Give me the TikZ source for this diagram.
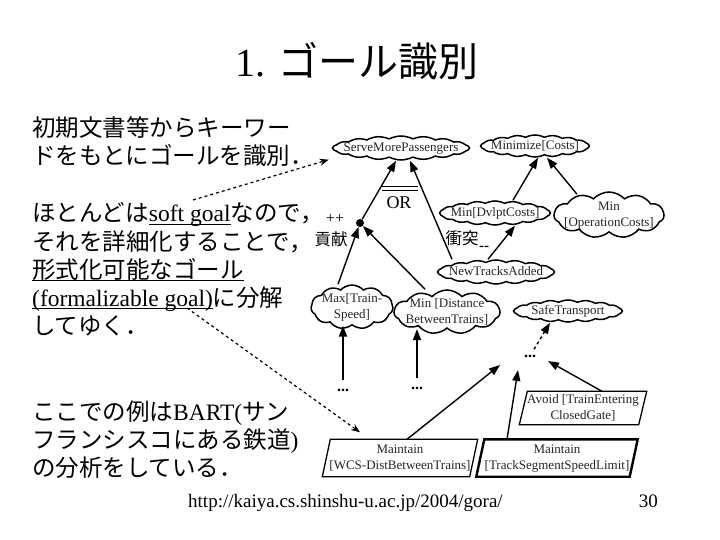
\documentclass[tikz,border=0pt]{standalone}
\usepackage{fontspec}
\setmainfont{Liberation Serif}
\newfontfamily\jp{Noto Sans CJK JP}
\usetikzlibrary{shapes.symbols,shapes.geometric,arrows.meta}
\newcommand\myul[1]{\setbox0\hbox{#1}\rlap{\rule[-3pt]{\wd0}{1.3pt}}\box0}
\newcommand\gtxt[1]{\makebox[0pt]{\raisebox{-3pt}[0pt][0pt]{\begin{tabular}{@{}c@{}}#1\end{tabular}}}}
\newcommand\pgram[2]{\draw[#2] ([xshift=-4pt]#1.south west) -- ([xshift=-4pt]#1.south east) -- ([xshift=4pt]#1.north east) -- ([xshift=4pt]#1.north west) -- cycle;}
\tikzset{
  nodefont/.style={font=\fontsize{13}{16.5}\selectfont, text=black!85},
  goalcloud/.style={shape=cloud, draw, line width=1.5pt, cloud puffs=18, cloud puff arc=55,
     cloud ignores aspect, inner sep=0pt, nodefont},
  roughcloud/.style={goalcloud, cloud puffs=11, cloud puff arc=95},
  agentbox/.style={rectangle, inner sep=0pt, nodefont},
  boxline/.style={line width=1.3pt, line join=miter},
  link/.style={line width=1.4pt, -{Triangle[length=11pt,width=8pt]}},
  hint/.style={dashed, line width=1.2pt, -{Stealth[length=9pt,width=7pt]}},
  bodytext/.style={anchor=base west, inner sep=0pt, font=\fontsize{23.5}{28}\selectfont},
  dots/.style={inner sep=0pt, font=\fontsize{16}{16}\selectfont\bfseries},
  smalllabel/.style={inner sep=0pt, font=\fontsize{16.5}{16.5}\selectfont},
}
\begin{document}
\begin{tikzpicture}[x=1pt,y=-1pt]
\path[fill=white] (0,0) rectangle (720,540);
\useasboundingbox (0,0) rectangle (720,540);

% title
\node[anchor=base west, inner sep=0pt, font=\fontsize{40}{40}\selectfont] (title) at (235,77) {1. {\jp ゴール識別}};

% left text
\node[bodytext] (l1) at (32,137) {{\jp 初期文書等からキーワー}};
\node[bodytext] (l2) at (32,165) {{\jp ドをもとにゴールを識別．}};
\node[bodytext] (l3) at (32,222) {{\jp ほとんどは}\myul{soft goal}{\jp なので，}};
\node[bodytext] (l4) at (32,250) {{\jp それを詳細化することで，}};
\node[bodytext] (l5) at (32,278) {\myul{\jp 形式化可能なゴール}};
\node[bodytext] (l6) at (32,306) {\myul{(formalizable goal)}{\jp に分解}};
\node[bodytext] (l7) at (32,334) {{\jp してゆく．}};
\node[bodytext] (l8) at (32,420) {{\jp ここでの例は}BART({\jp サン}};
\node[bodytext] (l9) at (32,448) {{\jp フランシスコにある鉄道})};
\node[bodytext] (l10) at (32,476) {{\jp の分析をしている．}};

% goal nodes
\node[goalcloud, minimum width=136, minimum height=24] (smp) at (401,148) {\gtxt{ServeMorePassengers}};
\node[goalcloud, minimum width=108, minimum height=22] (mincost) at (535,146) {\gtxt{Minimize[Costs]}};
\node[goalcloud, minimum width=110, minimum height=24] (mindv) at (495,213) {\gtxt{Min[DvlptCosts]}};
\node[roughcloud, minimum width=110, minimum height=46] (minop) at (609,215) {\gtxt{Min\\{[}OperationCosts]}};
\node[goalcloud, minimum width=116, minimum height=24] (nta) at (496,272) {\gtxt{NewTracksAdded}};
\node[roughcloud, minimum width=82, minimum height=44] (maxts) at (352,307) {\gtxt{Max[Train-\\Speed]}};
\node[roughcloud, minimum width=106, minimum height=44] (mindist) at (447,312) {\gtxt{Min [Distance\\BetweenTrains]}};
\node[goalcloud, minimum width=108, minimum height=22] (safe) at (568,311) {\gtxt{SafeTransport}};

% requirement boxes (parallelograms)
\node[agentbox, minimum width=119, minimum height=33] (avoid) at (583,408) {\gtxt{Avoid [TrainEntering\\ClosedGate]}};
\node[agentbox, minimum width=147, minimum height=37] (wcs) at (400,458) {\gtxt{Maintain\\{[}WCS-DistBetweenTrains]}};
\node[agentbox, minimum width=153, minimum height=37] (track) at (557,458) {\gtxt{Maintain\\{[}TrackSegmentSpeedLimit]}};
\pgram{avoid}{boxline}
\pgram{wcs}{boxline}
\pgram{track}{boxline, line width=2.4pt}

% dots and contribution point
\node[circle, fill, inner sep=0pt, minimum size=8] (dot) at (360,223) {};
\node[dots] (d1) at (343,390) {...};
\node[dots] (d2) at (417,388) {...};
\node[dots] (d3) at (530,356) {...};

% labels
\node[inner sep=0pt, font=\fontsize{18}{18}\selectfont] (or) at (399,203) {OR};
\node[inner sep=0pt, font=\fontsize{16}{16}\selectfont] (pp) at (335,219) {++};
\node[smalllabel, font=\jp\fontsize{16.5}{16.5}\selectfont] (kouken) at (331,239) {貢献};
\node[smalllabel, font=\jp\fontsize{16.5}{16.5}\selectfont] (shoutotsu) at (462,238) {衝突};
\node[inner sep=0pt, font=\fontsize{15}{15}\selectfont\bfseries] (mm) at (484,248) {-{}-};

% OR bar
\draw[line width=1pt] (382,186.5) -- (418,186.5);
\draw[line width=1.6pt] (382,190.5) -- (418,190.5);

% connectors
\draw[link] (dot) -- ([xshift=-5pt]smp.south);
\draw[link] ([xshift=-44pt]nta.north) -- ([xshift=9pt]smp.south);
\draw[link] ([xshift=18pt]mindv.north) -- ([xshift=3pt]mincost.south);
\draw[link] ([xshift=-32pt,yshift=-3pt]minop.north) -- ([xshift=12pt]mincost.south);
\draw[link] ([xshift=-8pt]nta.north) -- ([xshift=20pt]mindv.south);
\draw[link] ([xshift=-14pt]maxts.north) -- (dot);
\draw[link] ([xshift=-22pt]mindist.north) -- (dot);
\draw[link, shorten <=9pt] (d1) -- (d1 |- maxts.south);
\draw[link, shorten <=9pt] (d2) -- (d2 |- mindist.south);
\draw[link, dashed, shorten <=6pt] (d3) -- ([xshift=-18pt]safe.south);
\draw[link] ([xshift=19pt]avoid.north) -- ([xshift=18pt,yshift=-5pt]d3.center);
\draw[link] ([xshift=7pt]wcs.north) -- ([xshift=-30pt,yshift=-9pt]d3.center);
\draw[link] ([xshift=-50pt]track.north) -- ([xshift=-12pt,yshift=-14pt]d3.center);

% hints from text
\coordinate (sg) at (193,200);
\coordinate (fg) at (187,308);
\draw[hint] (sg) -- ([xshift=-3pt,yshift=-12pt]smp.west);
\draw[hint] (fg) -- ([xshift=-40pt,yshift=7pt]wcs.north);

% footer
\node[anchor=base west, inner sep=0pt, font=\fontsize{19}{19}\selectfont] (url) at (188,507) {http://kaiya.cs.shinshu-u.ac.jp/2004/gora/};
\node[anchor=base east, inner sep=0pt, font=\fontsize{19}{19}\selectfont] (page) at (658,507) {30};
\end{tikzpicture}
\end{document}
